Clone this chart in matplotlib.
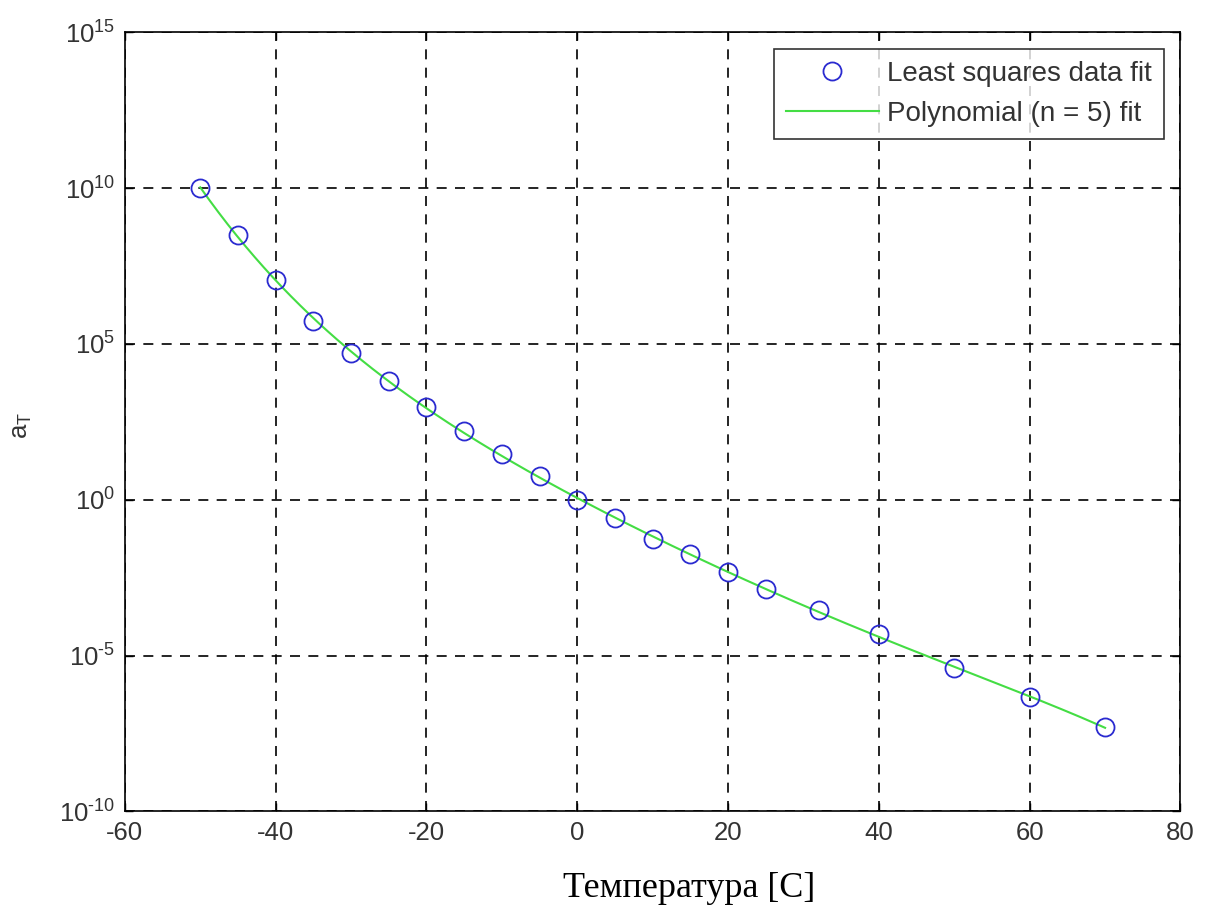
import numpy as np
import matplotlib
matplotlib.use("Agg")
import matplotlib.pyplot as plt
from matplotlib.ticker import FixedLocator, FuncFormatter, NullLocator

plt.rcParams['font.family'] = ['Liberation Sans', 'DejaVu Sans']
plt.rcParams['mathtext.fontset'] = 'custom'
plt.rcParams['mathtext.rm'] = 'Liberation Sans'
plt.rcParams['mathtext.it'] = 'Liberation Sans:italic'

# Data (temperature in C, log10 of shift factor a_T)
temps = [-50, -45, -40, -35, -30, -25, -20, -15, -10, -5, 0, 5, 10, 15, 20, 25, 32, 40, 50, 60, 70]
log_aT = [10.0, 8.5, 7.05, 5.75, 4.7, 3.8, 2.97, 2.2, 1.46, 0.75, 0.0, -0.58, -1.27, -1.75,
          -2.33, -2.88, -3.55, -4.32, -5.41, -6.34, -7.3]
x_ticks = [-60, -40, -20, 0, 20, 40, 60, 80]
y_exps = [-10, -5, 0, 5, 10, 15]
legend_labels = ['Least squares data fit', 'Polynomial (n = 5) fit']
xlabel = 'Температура [C]'
ylabel = 'a$_\\mathregular{T}$'

temps_arr = np.array(temps, dtype=float)
aT = 10.0 ** np.array(log_aT)

# Polynomial (n = 5) fit of log10(a_T)
coef = np.polyfit(temps_arr, np.array(log_aT), 5)
xf = np.linspace(temps_arr.min(), temps_arr.max(), 300)
yf = 10.0 ** np.polyval(coef, xf)

fig = plt.figure(figsize=(12.12, 9.22), dpi=100)
ax = fig.add_axes([0.103, 0.120, 0.871, 0.845])

ax.plot(temps_arr, aT, linestyle='none', marker='o', markersize=13, markerfacecolor='none',
        markeredgecolor='#2a2ad0', markeredgewidth=1.3, label=legend_labels[0], zorder=3)
ax.plot(xf, yf, color='#44dd44', linewidth=1.5, label=legend_labels[1], zorder=2)

ax.set_yscale('log')
ax.set_xlim(-60, 80)
ax.set_ylim(1e-10, 1e15)
ax.xaxis.set_major_locator(FixedLocator(x_ticks))
ax.yaxis.set_major_locator(FixedLocator([10.0 ** e for e in y_exps]))
ax.yaxis.set_minor_locator(NullLocator())


def yfmt(v, p):
    e = int(round(np.log10(v)))
    s = ('\\text{-}%d' % abs(e)) if e < 0 else '%d' % e
    return '$\\mathregular{10^{%s}}$' % s


ax.yaxis.set_major_formatter(FuncFormatter(yfmt))
ax.xaxis.set_major_formatter(FuncFormatter(lambda v, p: '%d' % v))

ax.tick_params(axis='both', which='major', direction='in', length=6, width=1,
               labelsize=18.5, labelcolor='#333333', top=True, right=True, pad=7)
ax.grid(True, which='major', color='black', linestyle=(0, (6, 5)), linewidth=1.2)
for s in ax.spines.values():
    s.set_linewidth(1.2)

ax.set_xlabel(xlabel, fontsize=26, family=['Liberation Serif'], va='center')
ax.xaxis.set_label_coords(0.535, -0.099)
ax.set_ylabel(ylabel, fontsize=18.5, va='center', color='#333333')
ax.yaxis.set_label_coords(-0.097, 0.4955)

leg = ax.legend(loc='upper right', fontsize=20, frameon=True, fancybox=False,
                edgecolor='black', handlelength=3.35, handletextpad=0.3,
                borderaxespad=0.6, labelspacing=0.5, borderpad=0.43)
leg.get_frame().set_linewidth(1.2)
for t in leg.get_texts():
    t.set_color('#333333')

fig.savefig('out.png', dpi=100)
